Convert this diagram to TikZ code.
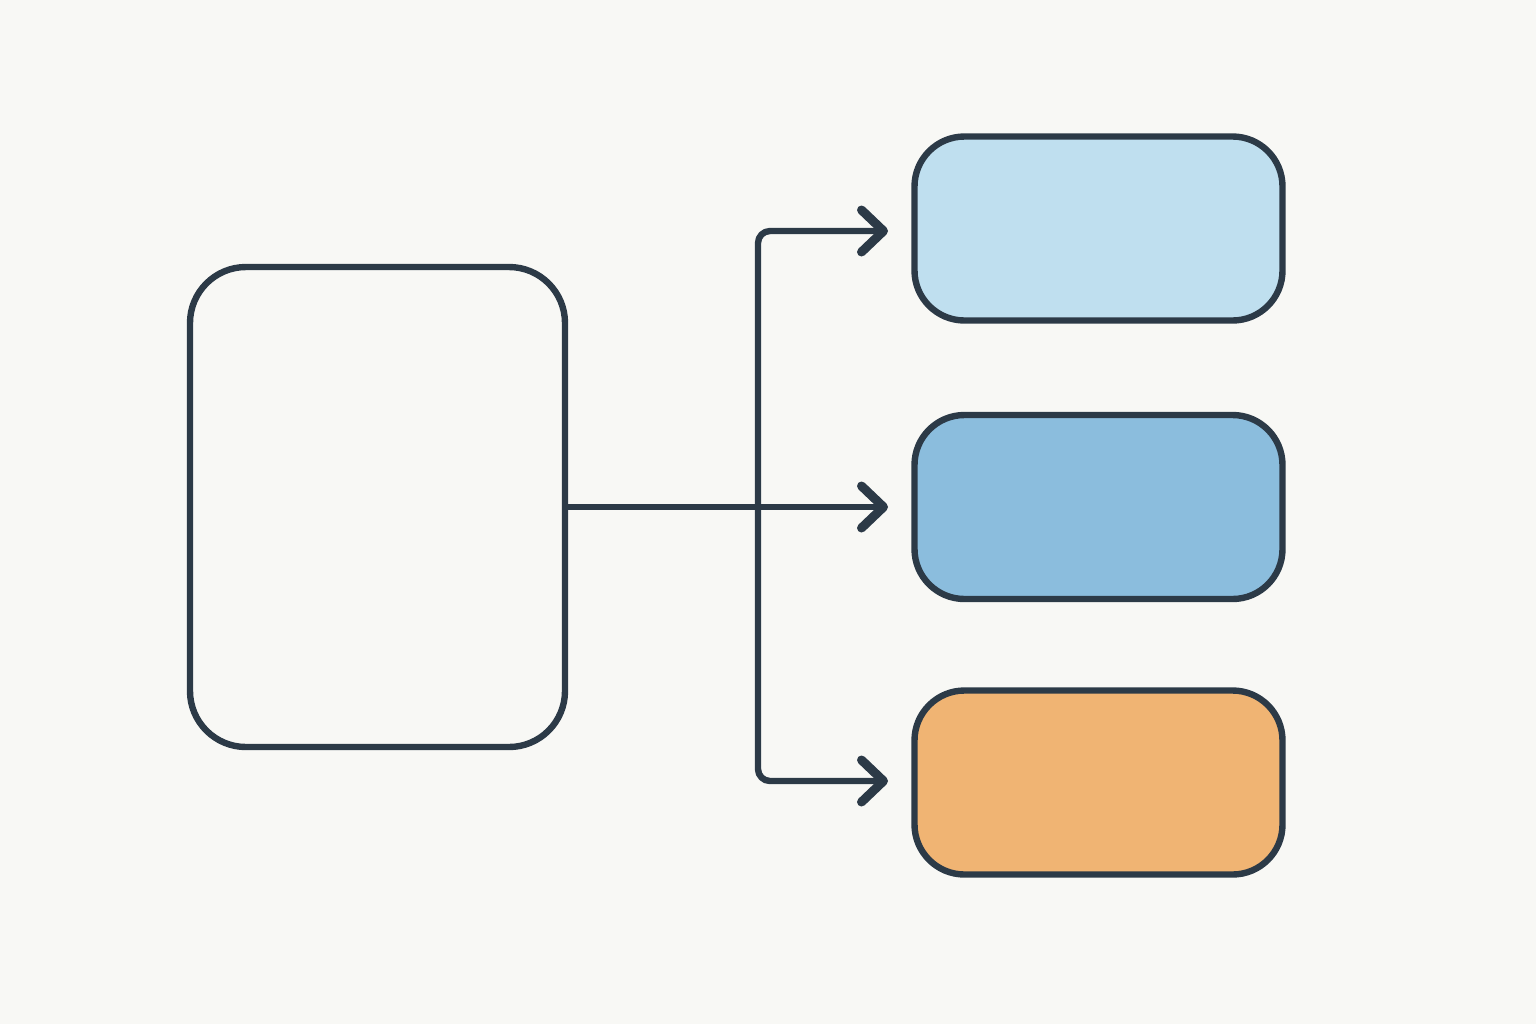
\documentclass[tikz,border=0pt]{standalone}
\usetikzlibrary{arrows.meta}
\definecolor{bg}{HTML}{F8F8F5}
\definecolor{ink}{HTML}{2C3A47}
\definecolor{lblue}{HTML}{BFDFEF}
\definecolor{mblue}{HTML}{8BBDDD}
\definecolor{orng}{HTML}{F0B473}
\tikzset{
  box/.style={draw=ink, line width=3.2pt, rounded corners=25pt, inner sep=0pt},
  conn/.style={draw=ink, line width=3.2pt, line cap=round, line join=round},
}
\begin{document}
\begin{tikzpicture}[x=0.5pt, y=-0.5pt,
  >={Straight Barb[length=11pt, width=21pt, line width=4.5pt, round]}]
\fill[bg] (0,0) rectangle (1536,1024);
\useasboundingbox (0,0) rectangle (1536,1024);
\node[box, minimum width=187.5pt, minimum height=240pt, rounded corners=28pt] (src) at (377.5,507) {};
\node[box, fill=lblue, minimum width=184pt, minimum height=92pt] (b1) at (1098.5,228.5) {};
\node[box, fill=mblue, minimum width=184pt, minimum height=92pt] (b2) at (1098.5,507) {};
\node[box, fill=orng, minimum width=184pt, minimum height=92pt] (b3) at (1098.5,782.5) {};
\coordinate (j) at (758,507);
\coordinate (t1) at (888,231);
\coordinate (t3) at (888,781);
\draw[conn, ->] (src.east) -- (t1 |- b2.west);
\draw[conn, <->, rounded corners=6pt] (t1) -| (j) |- (t3);
\end{tikzpicture}
\end{document}
